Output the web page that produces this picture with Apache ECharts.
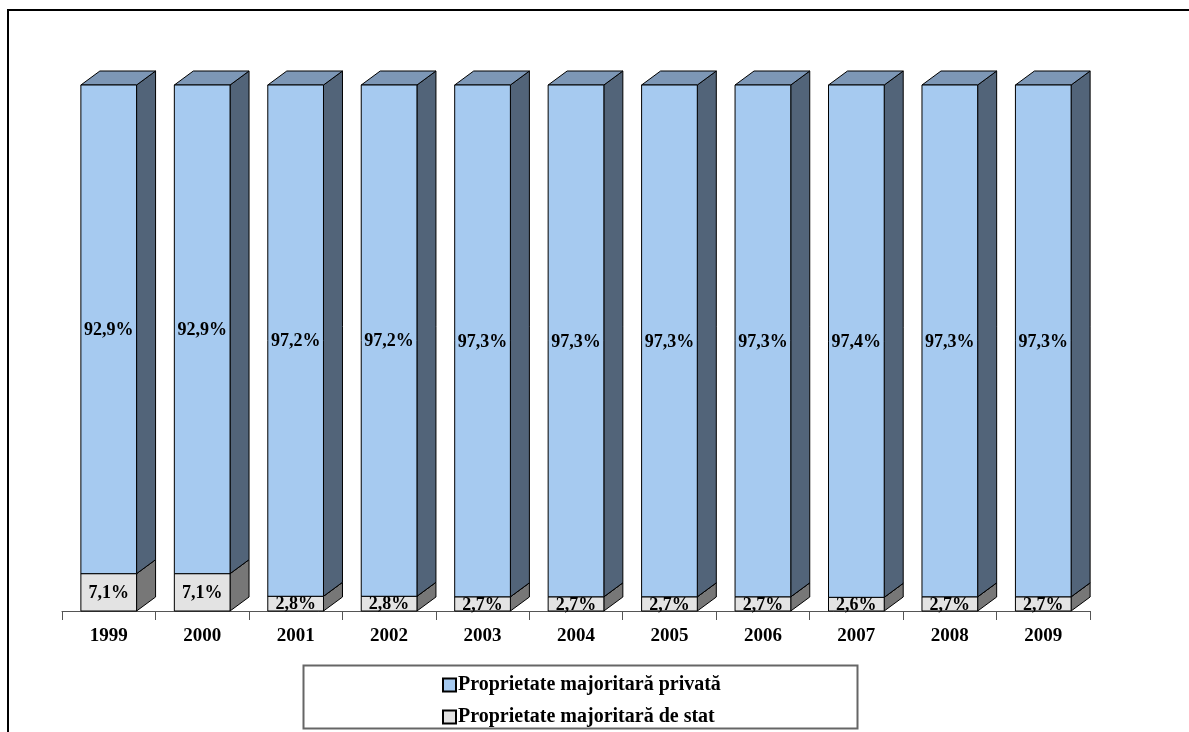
<!DOCTYPE html>
<html>
<head>
<meta charset="utf-8">
<script src="https://cdn.jsdelivr.net/npm/echarts@6/dist/echarts.min.js"></script>
<style>
  html, body { margin: 0; padding: 0; background: #fff; }
  #chart { width: 1189px; height: 732px; }
</style>
</head>
<body>
<div id="chart"></div>
<script>
// date
var years = ['1999', '2000', '2001', '2002', '2003', '2004', '2005', '2006', '2007', '2008', '2009'];
var privata = [92.9, 92.9, 97.2, 97.2, 97.3, 97.3, 97.3, 97.3, 97.4, 97.3, 97.3];
var deStat = [7.1, 7.1, 2.8, 2.8, 2.7, 2.7, 2.7, 2.7, 2.6, 2.7, 2.7];
var numePrivata = 'Proprietate majoritară privată';
var numeStat = 'Proprietate majoritară de stat';

var FONT = '"Liberation Serif", "Times New Roman", serif';
var DX = 19, DY = 14; // adancimea 3D

function fmt(v) {
  return v.toFixed(1).replace('.', ',') + '%';
}

// bara 3D: fata + lateral + capac
function bar3d(colors) {
  return function (params, api) {
    var i = api.value(0);
    var p0 = api.coord([i, api.value(1)]);
    var p1 = api.coord([i, api.value(2)]);
    var w = api.size([1, 0])[0] * 0.596;
    var x0 = p0[0] - w / 2, x1 = p0[0] + w / 2;
    var yb = p0[1], yt = p1[1];
    var line = { stroke: '#000', lineWidth: 1 };
    return {
      type: 'group',
      children: [
        {
          type: 'polygon',
          shape: { points: [[x1, yb], [x1 + DX, yb - DY], [x1 + DX, yt - DY], [x1, yt]] },
          style: Object.assign({ fill: colors.side }, line)
        },
        {
          type: 'polygon',
          shape: { points: [[x0, yt], [x1, yt], [x1 + DX, yt - DY], [x0 + DX, yt - DY]] },
          style: Object.assign({ fill: colors.top }, line)
        },
        {
          type: 'rect',
          shape: { x: x0, y: yt, width: w, height: yb - yt },
          style: Object.assign({ fill: colors.front }, line)
        },
        {
          type: 'text',
          x: (x0 + x1) / 2,
          y: (yb + yt) / 2 + 1,
          z2: 10,
          style: {
            text: fmt(api.value(2) - api.value(1)),
            fill: '#000',
            font: 'bold 18px ' + FONT,
            align: 'center',
            verticalAlign: 'middle'
          }
        }
      ]
    };
  };
}

var dateStat = [], datePrivata = [];
for (var i = 0; i < years.length; i++) {
  dateStat.push([i, 0, deStat[i]]);
  datePrivata.push([i, deStat[i], deStat[i] + privata[i]]);
}

var chart = echarts.init(document.getElementById('chart'));
chart.setOption({
  animation: false,
  grid: { left: 62, right: 99, top: 85, bottom: 121 },
  xAxis: {
    type: 'category',
    data: years,
    axisLine: { lineStyle: { color: '#555', width: 1 } },
    axisTick: { show: true, length: 9, lineStyle: { color: '#555' } },
    axisLabel: { margin: 16, color: '#000', fontFamily: FONT, fontWeight: 'bold', fontSize: 19 }
  },
  yAxis: {
    type: 'value', min: 0, max: 100, show: false, splitLine: { show: false }
  },
  legend: {
    orient: 'vertical',
    left: 442,
    top: 675,
    padding: 0,
    itemWidth: 13,
    itemHeight: 13,
    itemGap: 12,
    icon: 'rect',
    data: [numePrivata, numeStat],
    textStyle: { color: '#000', fontFamily: FONT, fontWeight: 'bold', fontSize: 20, lineHeight: 19, padding: [0, 0, 0, -3] }
  },
  graphic: [
    {
      type: 'rect',
      shape: { x: 8, y: 10, width: 1300, height: 900 },
      style: { fill: 'none', stroke: '#000', lineWidth: 2 },
      silent: true
    },
    {
      type: 'rect',
      shape: { x: 303.5, y: 665.5, width: 554, height: 63 },
      style: { fill: 'none', stroke: '#666', lineWidth: 2 },
      silent: true
    }
  ],
  series: [
    {
      name: numeStat,
      type: 'custom',
      renderItem: bar3d({ front: '#E3E3E3', side: '#777777', top: '#A8A8A8' }),
      itemStyle: { color: '#E3E3E3', borderColor: '#000', borderWidth: 1 },
      encode: { x: 0, y: [1, 2] },
      data: dateStat
    },
    {
      name: numePrivata,
      type: 'custom',
      renderItem: bar3d({ front: '#A6CAF0', side: '#526479', top: '#7D97B6' }),
      itemStyle: { color: '#A6CAF0', borderColor: '#000', borderWidth: 1 },
      encode: { x: 0, y: [1, 2] },
      data: datePrivata
    }
  ]
});
</script>
</body>
</html>
